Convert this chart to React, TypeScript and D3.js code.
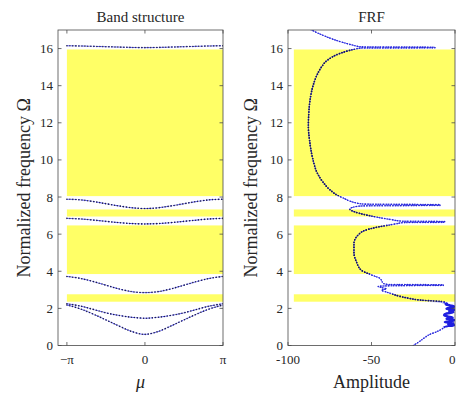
import React from 'react';
import * as d3 from 'd3';

const W = 456;
const H = 394;
const PI = Math.PI;

// ---- data ----
const Y_TICKS = [0, 2, 4, 6, 8, 10, 12, 14, 16];
const MU_TICK_VALUES = [-PI, 0, PI];
const MU_TICK_LABELS = ['−π', '0', 'π'];
const AMP_TICKS = [-100, -50, 0];
const AMP_TICK_LABELS = ['-100', '-50', '0'];

// stop bands (yellow), normalized frequency ranges
const STOP_LO = [2.36, 3.85, 6.95, 8.05];
const STOP_HI = [2.76, 6.47, 7.33, 15.95];

// Bloch wavenumber samples (in units of pi)
const MU_FRAC = [-1, -5 / 6, -2 / 3, -1 / 2, -1 / 3, -1 / 6, 0, 1 / 6, 1 / 3, 1 / 2, 2 / 3, 5 / 6, 1];
const BAND1 = [2.18, 1.98, 1.7, 1.38, 1.05, 0.75, 0.6, 0.75, 1.05, 1.38, 1.7, 1.98, 2.18];
const BAND2 = [2.25, 2.13, 1.95, 1.76, 1.62, 1.52, 1.47, 1.52, 1.62, 1.76, 1.95, 2.13, 2.25];
const BAND3 = [3.72, 3.62, 3.45, 3.25, 3.05, 2.9, 2.85, 2.9, 3.05, 3.25, 3.45, 3.62, 3.72];
const BAND4 = [6.85, 6.82, 6.76, 6.69, 6.62, 6.57, 6.55, 6.57, 6.62, 6.69, 6.76, 6.82, 6.85];
const BAND5 = [7.88, 7.85, 7.76, 7.64, 7.52, 7.42, 7.38, 7.42, 7.52, 7.64, 7.76, 7.85, 7.88];
const BAND6 = [16.15, 16.14, 16.12, 16.1, 16.08, 16.06, 16.05, 16.06, 16.08, 16.1, 16.12, 16.14, 16.15];
const BANDS = [BAND1, BAND2, BAND3, BAND4, BAND5, BAND6];

// FRF: frequency / amplitude pairs
const FRF_FREQ = [
  0.0, 0.2, 0.4, 0.6, 0.74, 0.88, 0.98, 1.05, 1.1, 1.14, 1.2, 1.26, 1.32, 1.38, 1.44, 1.5, 1.56,
  1.64, 1.72, 1.8, 1.86, 1.92, 1.98, 2.04, 2.1, 2.16, 2.22, 2.28, 2.36, 2.45, 2.55, 2.65, 2.76,
  2.88, 2.98, 3.05, 3.12, 3.18, 3.22, 3.24, 3.27, 3.29, 3.35, 3.5, 3.62, 3.8, 4.05, 4.5, 5.0,
  5.5, 6.0, 6.2, 6.35, 6.47, 6.56, 6.62, 6.64, 6.68, 6.7, 6.78, 6.9, 7.05, 7.2, 7.35, 7.45,
  7.52, 7.55, 7.59, 7.62, 7.7, 7.8, 7.95, 8.05, 8.4, 8.8, 9.3, 10.0, 11.0, 11.8, 12.6, 13.4,
  14.0, 14.6, 15.0, 15.4, 15.7, 15.88, 15.97, 16.03, 16.04, 16.07, 16.09, 16.18, 16.3, 16.5,
  16.75, 17.0, 17.3,
];
const FRF_AMP = [
  -25, -21.5, -18.5, -15, -11, -8, -6, -3, -0.5, -4, -1, -6, -2, -0.5, -5, -1.5, -4.5,
  -6.5, -5, -1, -3.5, -0.5, -5, -2, -0.5, -3, -5.5, -5, -8, -21, -28, -33, -37,
  -41, -44, -41, -44, -46, -38, -7, -7, -40, -43, -44, -45, -50, -56, -59, -60.5,
  -60.5, -57.5, -54, -48, -41, -35, -31, -6, -6, -32, -38, -46, -54, -60, -63, -61,
  -56, -9, -9, -55, -60, -63.5, -67, -69.5, -75, -79, -82.5, -85, -87, -87.8, -87.5, -86.5,
  -85, -82.5, -80, -76, -70, -64, -60, -56, -12, -12, -56, -61, -66, -73,
  -80, -85.8, -90,
];

// ---- layout ----
const Y_BOTTOM = 345.5;
const Y_TOP = 30;
const L_X0 = 58;
const L_X1 = 223;
const R_X0 = 288;
const R_X1 = 455;

const FONT = '"Liberation Serif", "DejaVu Serif", serif';
const AXIS_COLOR = '#4a4a4a';
const TEXT_COLOR = '#262626';
const YELLOW = '#ffff66';
const BLUE_LINE = '#5050ff';
const DARK_DOT = '#1c1c4a';
const BLUE_DOT = '#2626d0';

const yS = d3.scaleLinear().domain([0, 17]).range([Y_BOTTOM, Y_TOP]);
const muS = d3.scaleLinear().domain([-3.5, PI]).range([L_X0, L_X1]);
const ampS = d3.scaleLinear().domain([-100, 0]).range([R_X0, R_X1]);

const bandLine = d3
  .line<number>()
  .x((_, i) => muS(MU_FRAC[i] * PI))
  .y((d) => yS(d))
  .curve(d3.curveMonotoneX);

const frfLine = d3
  .line<number>()
  .x((d) => ampS(d))
  .y((_, i) => yS(FRF_FREQ[i]))
  .curve(d3.curveMonotoneY);

const TICK = 3.5;

function Axes({
  x0,
  x1,
  xPos,
  xLabels,
  title,
  xLabel,
  xLabelItalic,
  yLabelX,
}: {
  x0: number;
  x1: number;
  xPos: number[];
  xLabels: string[];
  title: string;
  xLabel: string;
  xLabelItalic?: boolean;
  yLabelX: number;
}) {
  const cx = (x0 + x1) / 2;
  return (
    <g>
      <rect x={x0} y={Y_TOP} width={x1 - x0} height={Y_BOTTOM - Y_TOP} fill="none" stroke={AXIS_COLOR} strokeWidth={0.8} />
      {Y_TICKS.map((t) => (
        <g key={'y' + t}>
          <line x1={x0} x2={x0 + TICK} y1={yS(t)} y2={yS(t)} stroke={AXIS_COLOR} strokeWidth={0.8} />
          <line x1={x1} x2={x1 - TICK} y1={yS(t)} y2={yS(t)} stroke={AXIS_COLOR} strokeWidth={0.8} />
          <text
            x={x0 - 5}
            y={yS(t)}
            textAnchor="end"
            dominantBaseline="central"
            fontFamily={FONT}
            fontSize={13}
            fill={TEXT_COLOR}
          >
            {t}
          </text>
        </g>
      ))}
      {xPos.map((p, i) => {
        const atEdge = p > W - 6;
        return (
          <g key={'x' + i}>
            <line x1={p} x2={p} y1={Y_BOTTOM} y2={Y_BOTTOM - TICK} stroke={AXIS_COLOR} strokeWidth={0.8} />
            <line x1={p} x2={p} y1={Y_TOP} y2={Y_TOP + TICK} stroke={AXIS_COLOR} strokeWidth={0.8} />
            <text
              x={atEdge ? W - 0.5 : p}
              y={Y_BOTTOM + 18}
              textAnchor={atEdge ? 'end' : 'middle'}
              fontFamily={FONT}
              fontSize={13}
              fill={TEXT_COLOR}
            >
              {xLabels[i]}
            </text>
          </g>
        );
      })}
      <text x={cx} y={22} textAnchor="middle" fontFamily={FONT} fontSize={15} fill={TEXT_COLOR}>
        {title}
      </text>
      <text
        x={cx}
        y={388}
        textAnchor="middle"
        fontFamily={FONT}
        fontSize={18}
        fontStyle={xLabelItalic ? 'italic' : 'normal'}
        fill={TEXT_COLOR}
      >
        {xLabel}
      </text>
      <text
        transform={`translate(${yLabelX},${(Y_TOP + Y_BOTTOM) / 2}) rotate(-90)`}
        textAnchor="middle"
        dominantBaseline="central"
        fontFamily={FONT}
        fontSize={18}
        fill={TEXT_COLOR}
      >
        Normalized frequency Ω
      </text>
    </g>
  );
}

export default function App() {
  const frfPath = frfLine(FRF_AMP) || '';
  return (
    <svg
      width={W}
      height={H}
      viewBox={`0 0 ${W} ${H}`}
      style={{ position: 'fixed', left: 0, top: 0, display: 'block', background: '#fff' }}
    >
      <defs>
        <clipPath id="clipL">
          <rect x={L_X0} y={Y_TOP} width={L_X1 - L_X0} height={Y_BOTTOM - Y_TOP} />
        </clipPath>
        <clipPath id="clipR">
          <rect x={R_X0} y={Y_TOP} width={R_X1 - R_X0} height={Y_BOTTOM - Y_TOP} />
        </clipPath>
        <clipPath id="clipStop">
          {STOP_LO.map((lo, i) => (
            <rect key={i} x={R_X0} y={yS(STOP_HI[i])} width={R_X1 - R_X0} height={yS(lo) - yS(STOP_HI[i])} />
          ))}
        </clipPath>
        <clipPath id="clipBlob">
          <rect x={R_X0} y={yS(2.3)} width={R_X1 - R_X0} height={yS(1.0) - yS(2.3)} />
        </clipPath>
      </defs>

      {/* Band structure */}
      <g clipPath="url(#clipL)">
        {STOP_LO.map((lo, i) => (
          <rect
            key={i}
            x={muS(-PI)}
            y={yS(STOP_HI[i])}
            width={muS(PI) - muS(-PI)}
            height={yS(lo) - yS(STOP_HI[i])}
            fill={YELLOW}
          />
        ))}
        {BANDS.map((b, i) => (
          <g key={i}>
            <path d={bandLine(b) || ''} fill="none" stroke={BLUE_LINE} strokeWidth={0.9} strokeDasharray="2.5 1.2" />
            <path
              d={bandLine(b) || ''}
              fill="none"
              stroke={DARK_DOT}
              strokeWidth={1.6}
              strokeLinecap="round"
              strokeDasharray="0 3"
            />
          </g>
        ))}
      </g>
      <Axes
        x0={L_X0}
        x1={L_X1}
        xPos={MU_TICK_VALUES.map((v) => muS(v))}
        xLabels={MU_TICK_LABELS}
        title="Band structure"
        xLabel="μ"
        xLabelItalic
        yLabelX={24}
      />

      {/* FRF */}
      <g clipPath="url(#clipR)">
        {STOP_LO.map((lo, i) => (
          <rect
            key={i}
            x={ampS(-96.5)}
            y={yS(STOP_HI[i])}
            width={ampS(0) - ampS(-96.5)}
            height={yS(lo) - yS(STOP_HI[i])}
            fill={YELLOW}
          />
        ))}
        <path d={frfPath} fill="none" stroke={BLUE_LINE} strokeWidth={1} strokeDasharray="2.5 1.2" />
        <path d={frfPath} fill="none" stroke={BLUE_DOT} strokeWidth={1.6} strokeLinecap="round" strokeDasharray="0 2.6" />
        <g clipPath="url(#clipBlob)">
          <path d={frfPath} fill="none" stroke="#1f1fe0" strokeWidth={2.6} strokeLinejoin="round" />
        </g>
        <g clipPath="url(#clipStop)">
          <path d={frfPath} fill="none" stroke={DARK_DOT} strokeWidth={1.7} strokeLinecap="round" strokeDasharray="0 2.6" />
        </g>
      </g>
      <Axes
        x0={R_X0}
        x1={R_X1}
        xPos={AMP_TICKS.map((v) => ampS(v))}
        xLabels={AMP_TICK_LABELS}
        title="FRF"
        xLabel="Amplitude"
        yLabelX={251}
      />
    </svg>
  );
}
